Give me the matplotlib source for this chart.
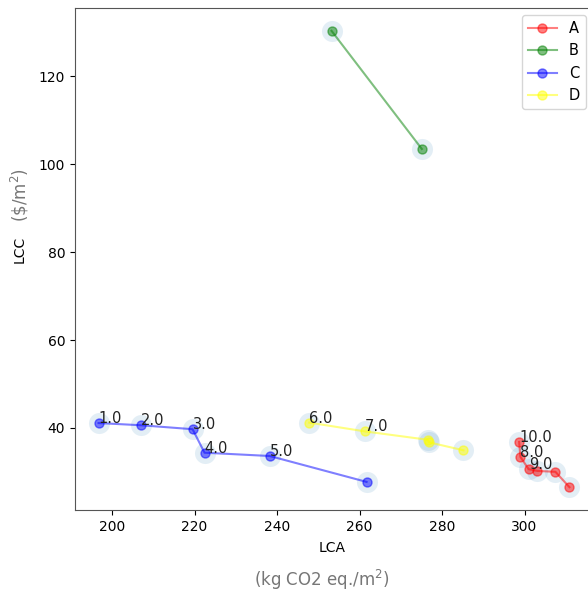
import matplotlib
matplotlib.use('Agg')
from matplotlib import pyplot as plt

# LCA (kg CO2 eq./m2) vs LCC ($/m2) for each group
a_lca = [298.7, 299.0, 301.0, 303.1, 307.5, 310.9]
a_lcc = [36.8, 33.4, 30.6, 30.2, 30.0, 26.5]

b_lca = [253.2, 275.1]
b_lcc = [130.4, 103.5]

c_lca = [196.7, 207.0, 219.5, 222.4, 238.2, 261.7]
c_lcc = [41.1, 40.6, 39.7, 34.35, 33.6, 27.7]

d_lca = [247.8, 261.3, 276.5, 276.9, 285.2]
d_lcc = [41.2, 39.2, 37.3, 36.7, 34.9]

# numbered points: (label, lca, lcc)
num_labels = ['1.0', '2.0', '3.0', '4.0', '5.0', '6.0', '7.0', '8.0', '9.0', '10.0']
num_lca = [196.7, 207.0, 219.5, 222.4, 238.2, 247.8, 261.3, 299.0, 301.0, 298.7]
num_lcc = [41.1, 40.6, 39.7, 34.35, 33.6, 41.2, 39.2, 33.4, 30.6, 36.8]

fig = plt.figure(figsize=(5.88, 5.98), dpi=100)
ax = fig.add_axes([75/588, 88/598, 518/588, 502/598])

groups = [('A', a_lca, a_lcc, 'red'),
          ('B', b_lca, b_lcc, 'green'),
          ('C', c_lca, c_lcc, 'blue'),
          ('D', d_lca, d_lcc, 'yellow')]

for name, x, y, col in groups:
    ax.scatter(x, y, s=230, color='tab:blue', alpha=0.12, linewidths=0)
    ax.plot(x, y, marker='o', markersize=6.5, color=col, alpha=0.5, label=name)

for lab, x, y in zip(num_labels, num_lca, num_lcc):
    ax.text(x, y, lab, fontsize=10.5, color='#222222')

ax.legend(loc='upper right', fontsize=10.5)
ax.set_xticks([200, 220, 240, 260, 280, 300])
ax.set_yticks([40, 60, 80, 100, 120])
for sp in ax.spines.values():
    sp.set_color('#555555')

fig.text(332/588, 1 - 548/598, 'LCA', ha='center', va='center', fontsize=10)
fig.text(322/588, 1 - 580/598, '(kg CO2 eq./m$^2$)', ha='center', va='center',
         fontsize=12, color='#777777')
fig.text(20/588, 1 - 249/598, 'LCC', ha='center', va='center', fontsize=10, rotation=90)
fig.text(20/588, 1 - 195/598, r'(\$/m$^2$)', ha='center', va='center',
         fontsize=12, color='#777777', rotation=90)

fig.savefig('out.png', dpi=100)
